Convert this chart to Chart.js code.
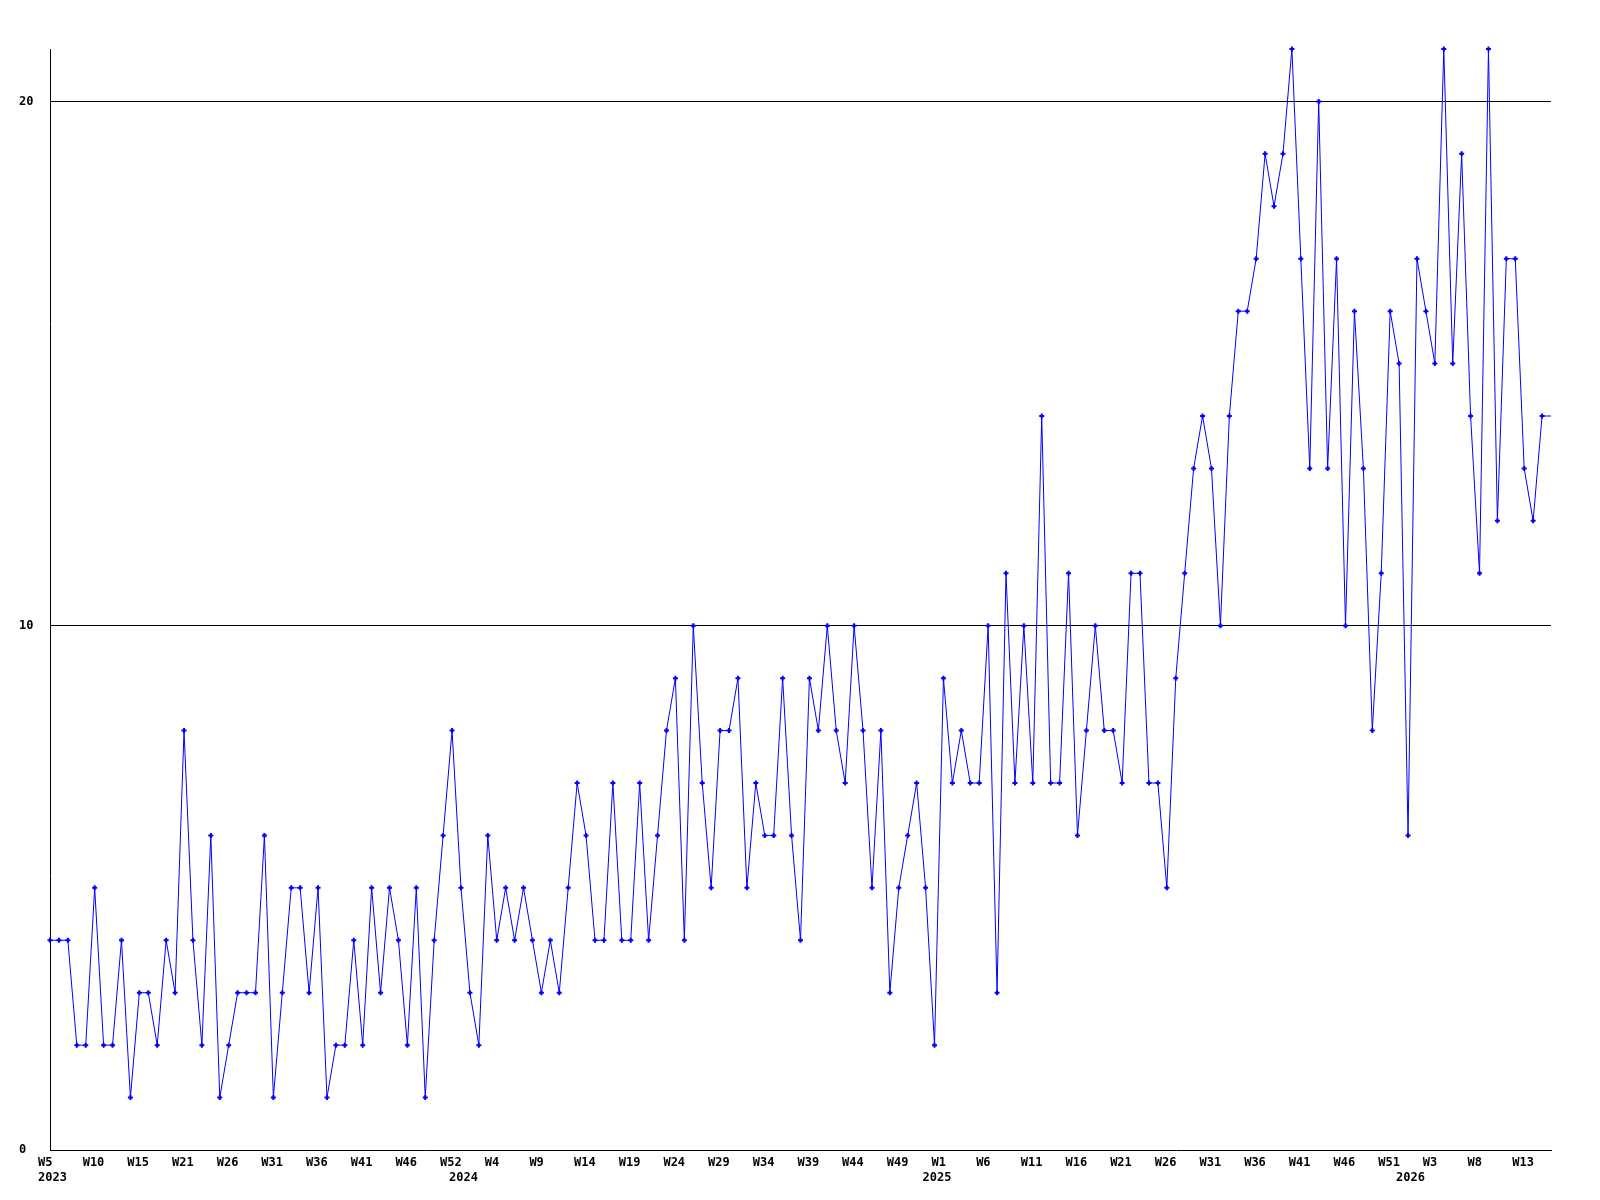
<!DOCTYPE html>
<html>
<head>
<meta charset="utf-8">
<script src="https://cdn.jsdelivr.net/npm/chart.js@4.4.1/dist/chart.umd.min.js"></script>
<style>
  html, body { margin: 0; padding: 0; background: #fff; }
</style>
</head>
<body>
<canvas id="chart" width="1600" height="1200"></canvas>
<script>
// weekly counts, 2023 W5 onwards
const counts = [
    4, 4, 4, 2, 2, 5, 2, 2, 4, 1,
    3, 3, 2, 4, 3, 8, 4, 2, 6, 1,
    2, 3, 3, 3, 6, 1, 3, 5, 5, 3,
    5, 1, 2, 2, 4, 2, 5, 3, 5, 4,
    2, 5, 1, 4, 6, 8, 5, 3, 2, 6,
    4, 5, 4, 5, 4, 3, 4, 3, 5, 7,
    6, 4, 4, 7, 4, 4, 7, 4, 6, 8,
    9, 4, 10, 7, 5, 8, 8, 9, 5, 7,
    6, 6, 9, 6, 4, 9, 8, 10, 8, 7,
    10, 8, 5, 8, 3, 5, 6, 7, 5, 2,
    9, 7, 8, 7, 7, 10, 3, 11, 7, 10,
    7, 14, 7, 7, 11, 6, 8, 10, 8, 8,
    7, 11, 11, 7, 7, 5, 9, 11, 13, 14,
    13, 10, 14, 16, 16, 17, 19, 18, 19, 21,
    17, 13, 20, 13, 17, 10, 16, 13, 8, 11,
    16, 15, 6, 17, 16, 15, 21, 15, 19, 14,
    11, 21, 12, 17, 17, 13, 12, 14, 14
];

// one label every 5 points
const weekTicks = [
    'W5', 'W10', 'W15', 'W21', 'W26', 'W31', 'W36', 'W41', 'W46', 'W52',
    'W4', 'W9', 'W14', 'W19', 'W24', 'W29', 'W34', 'W39', 'W44', 'W49',
    'W1', 'W6', 'W11', 'W16', 'W21', 'W26', 'W31', 'W36', 'W41', 'W46',
    'W51', 'W3', 'W8', 'W13'
];
const tickEvery = 5;

const yearNames = ['2023', '2024', '2025', '2026'];
const yearStarts = [0, 46, 99, 152];

const yTicks = [0, 10, 20];
const yMax = 21;

const font = { family: 'DejaVu Sans Mono', size: 12, weight: 'bold' };

const yearLabels = {
    id: 'yearLabels',
    afterDraw(chart) {
        const ctx = chart.ctx;
        const x = chart.scales.x;
        ctx.save();
        ctx.font = 'bold 12px "DejaVu Sans Mono"';
        ctx.fillStyle = '#000';
        ctx.textAlign = 'left';
        ctx.textBaseline = 'top';
        yearNames.forEach((name, i) => {
            ctx.fillText(name, x.getPixelForValue(yearStarts[i]) - 12, x.top + 22);
        });
        ctx.restore();
    }
};

const last = counts.length - 1;

new Chart(document.getElementById('chart'), {
    type: 'line',
    data: {
        datasets: [{
            data: counts.map((v, i) => ({ x: i, y: v })),
            borderColor: '#0000ff',
            backgroundColor: '#0000ff',
            borderWidth: 1,
            tension: 0,
            pointStyle: 'cross',
            pointRadius: (c) => c.dataIndex === last ? 0 : 2.5,
            pointBorderWidth: 2,
            pointBorderColor: '#0000ff',
            clip: false
        }]
    },
    options: {
        responsive: false,
        animation: false,
        devicePixelRatio: 1,
        layout: { padding: { left: 19, top: 49, right: 49, bottom: 0 } },
        plugins: {
            legend: { display: false },
            tooltip: { enabled: false }
        },
        scales: {
            x: {
                type: 'linear',
                min: 0,
                max: last,
                afterFit: (s) => { s.height = 50; },
                afterBuildTicks: (s) => {
                    s.ticks = weekTicks.map((_, i) => ({ value: i * tickEvery }));
                },
                ticks: {
                    autoSkip: false,
                    maxRotation: 0,
                    align: 'start',
                    labelOffset: -12,
                    padding: 6,
                    color: '#000',
                    font: font,
                    callback: (v) => weekTicks[Math.round(v / tickEvery)]
                },
                grid: { drawOnChartArea: false, drawTicks: false },
                border: { display: true, color: '#000', width: 1 }
            },
            y: {
                min: 0,
                max: yMax,
                afterFit: (s) => { s.width = 31; },
                afterBuildTicks: (s) => {
                    s.ticks = yTicks.map(v => ({ value: v }));
                },
                ticks: {
                    crossAlign: 'far',
                    color: '#000',
                    font: font
                },
                grid: {
                    drawTicks: false,
                    color: (c) => c.tick && c.tick.value === 0 ? 'rgba(0,0,0,0)' : '#000',
                    lineWidth: 1
                },
                border: { display: true, color: '#000', width: 1 }
            }
        }
    },
    plugins: [yearLabels]
});
</script>
</body>
</html>
